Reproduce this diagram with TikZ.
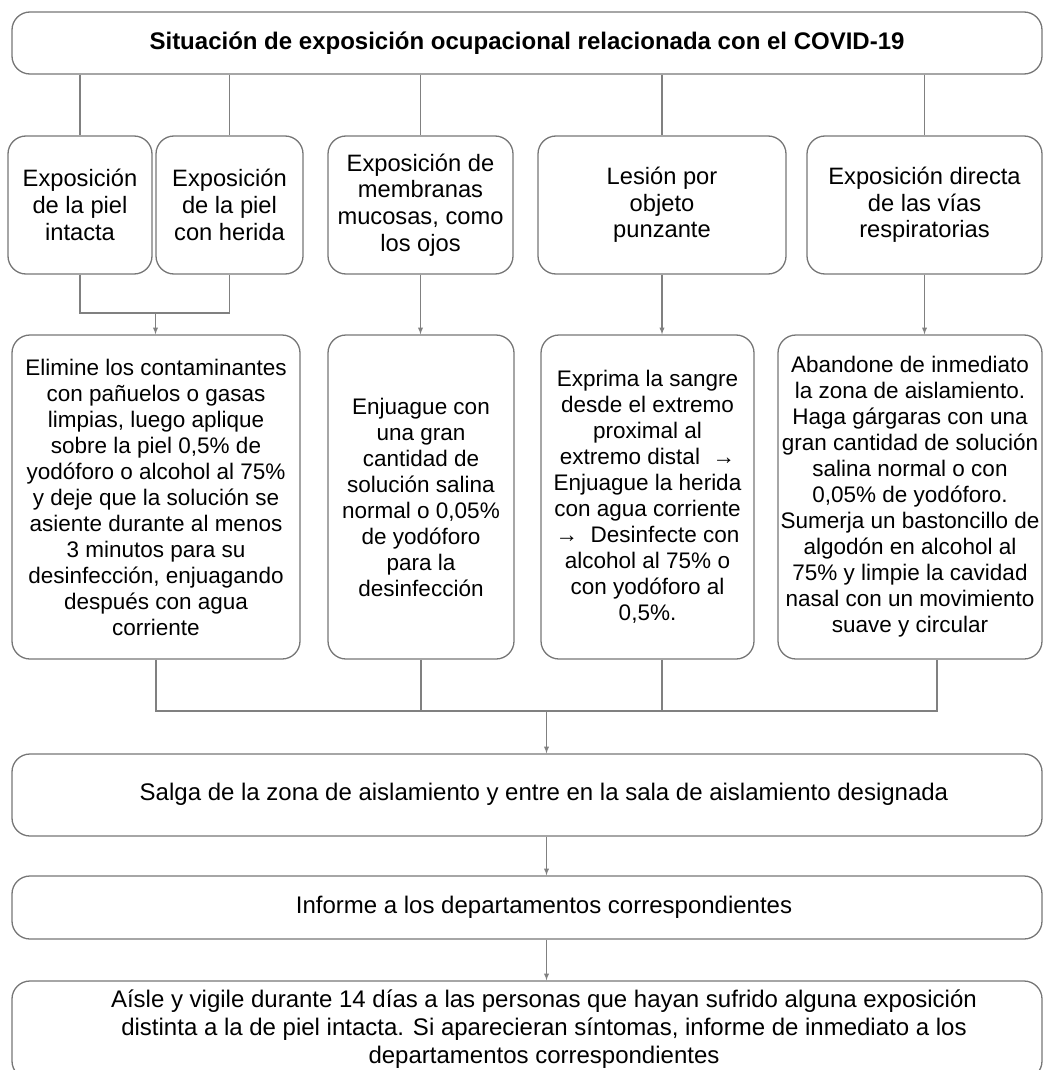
\documentclass[tikz,border=0pt]{standalone}
\usepackage{fontspec}
\setmainfont{Liberation Sans}
\usetikzlibrary{positioning}
\definecolor{gris}{RGB}{128,128,128}
\definecolor{borde}{RGB}{118,118,118}
\newcommand{\corrido}[1]{\hspace*{34pt}\begin{tabular}{@{}c@{}}#1\end{tabular}}
\tikzset{
  caja/.style={draw=borde, line width=1.3pt, rounded corners=18pt, align=center,
    inner sep=0pt, font=\fontsize{22.5}{26}\selectfont},
  tipo/.style={caja, minimum height=138pt, font=\fontsize{23.7}{26.7}\selectfont},
  paso/.style={caja, minimum width=1030pt, font=\fontsize{24}{28}\selectfont},
  linea/.style={draw=gris, line width=1.3pt},
  flecha/.style={linea, -latex},
}

\begin{document}
\begin{tikzpicture}[x=1pt, y=-1pt]
      \useasboundingbox (0,0) rectangle (1044,1070);
      % situacion
      \node[paso, minimum height=62pt, font=\fontsize{24}{28}\selectfont\bfseries] (sit) at (527,43)
        {Situación de exposición ocupacional relacionada con el COVID-19};
      % tipos de exposicion
      \node[tipo, minimum width=144pt] (piel) at (80,205)
        {Exposición\\de la piel\\intacta};
      \node[tipo, minimum width=147pt] (herida) at (229.5,205)
        {Exposición\\de la piel\\con herida};
      \node[tipo, minimum width=185pt] (mucosa) at (420.5,205)
        {Exposición de\\membranas\\mucosas, como\\los ojos};
      \node[tipo, minimum width=248pt] (puncion) at (662,205)
        {Lesión por\\objeto\\punzante};
      \node[tipo, minimum width=235pt] (vias) at (924.5,205)
        {Exposición directa\\de las vías\\respiratorias};
      % medidas
      \node[caja, minimum width=288pt, minimum height=324pt] (limpiar) at (156,497)
        {Elimine los contaminantes\\con pañuelos o gasas\\limpias, luego aplique\\sobre la piel 0,5\% de\\yodóforo o alcohol al 75\%\\y deje que la solución se\\asiente durante al menos\\3 minutos para su\\desinfección, enjuagando\\después con agua\\corriente};
      \node[caja, minimum width=186pt, minimum height=324pt] (enjuague) at (421,497)
        {Enjuague con\\una gran\\cantidad de\\solución salina\\normal o 0,05\%\\de yodóforo\\para la\\desinfección};
      \node[caja, minimum width=213pt, minimum height=324pt] (exprimir) at (647.5,497)
        {Exprima la sangre\\desde el extremo\\proximal al\\extremo distal \ →\\Enjuague la herida\\con agua corriente\\→ \ Desinfecte con\\alcohol al 75\% o\\con yodóforo al\\0,5\%.};
      \node[caja, minimum width=264pt, minimum height=324pt] (abandonar) at (910,497)
        {Abandone de inmediato\\la zona de aislamiento.\\Haga gárgaras con una\\gran cantidad de solución\\salina normal o con\\0,05\% de yodóforo.\\Sumerja un bastoncillo de\\algodón en alcohol al\\75\% y limpie la cavidad\\nasal con un movimiento\\suave y circular};
      % pasos finales
      \node[paso, minimum height=82pt] (salida) at (527,795)
        {\corrido{Salga de la zona de aislamiento y entre en la sala de aislamiento designada}};
      \node[paso, minimum height=63pt] (informe) at (527,907.5)
        {\corrido{Informe a los departamentos correspondientes}};
      \node[paso, minimum height=98pt] (aislar) at (527,1030)
        {\corrido{Aísle y vigile durante 14 días a las personas que hayan sufrido alguna exposición\\distinta a la de piel intacta. Si aparecieran síntomas, informe de inmediato a los\\departamentos correspondientes}};
      \coordinate (unionpiel) at (155.5,313);
      \coordinate (union) at (546.5,711);
      % conexiones
      \draw[linea] (piel.north |- sit.south) -- (piel.north);
      \draw[linea] (herida.north |- sit.south) -- (herida.north);
      \draw[linea] (mucosa.north |- sit.south) -- (mucosa.north);
      \draw[linea] (puncion.north |- sit.south) -- (puncion.north);
      \draw[linea] (vias.north |- sit.south) -- (vias.north);
      \draw[linea] (piel.south) |- (unionpiel) -| (herida.south);
      \draw[flecha] (unionpiel) -- (unionpiel |- limpiar.north);
      \draw[flecha] (mucosa.south) -- (mucosa.south |- enjuague.north);
      \draw[flecha] (puncion.south) -- (puncion.south |- exprimir.north);
      \draw[flecha] (vias.south) -- (vias.south |- abandonar.north);
      \draw[linea] (limpiar.south) |- (union) -| ([xshift=27pt]abandonar.south);
      \draw[linea] (enjuague.south) -- (enjuague.south |- union);
      \draw[linea] (puncion.south |- exprimir.south) -- (puncion.south |- union);
      \draw[flecha] (union) -- (union |- salida.north);
      \draw[flecha] (salida.south -| union) -- (informe.north -| union);
      \draw[flecha] (informe.south -| union) -- (aislar.north -| union);
    \end{tikzpicture}
\end{document}
